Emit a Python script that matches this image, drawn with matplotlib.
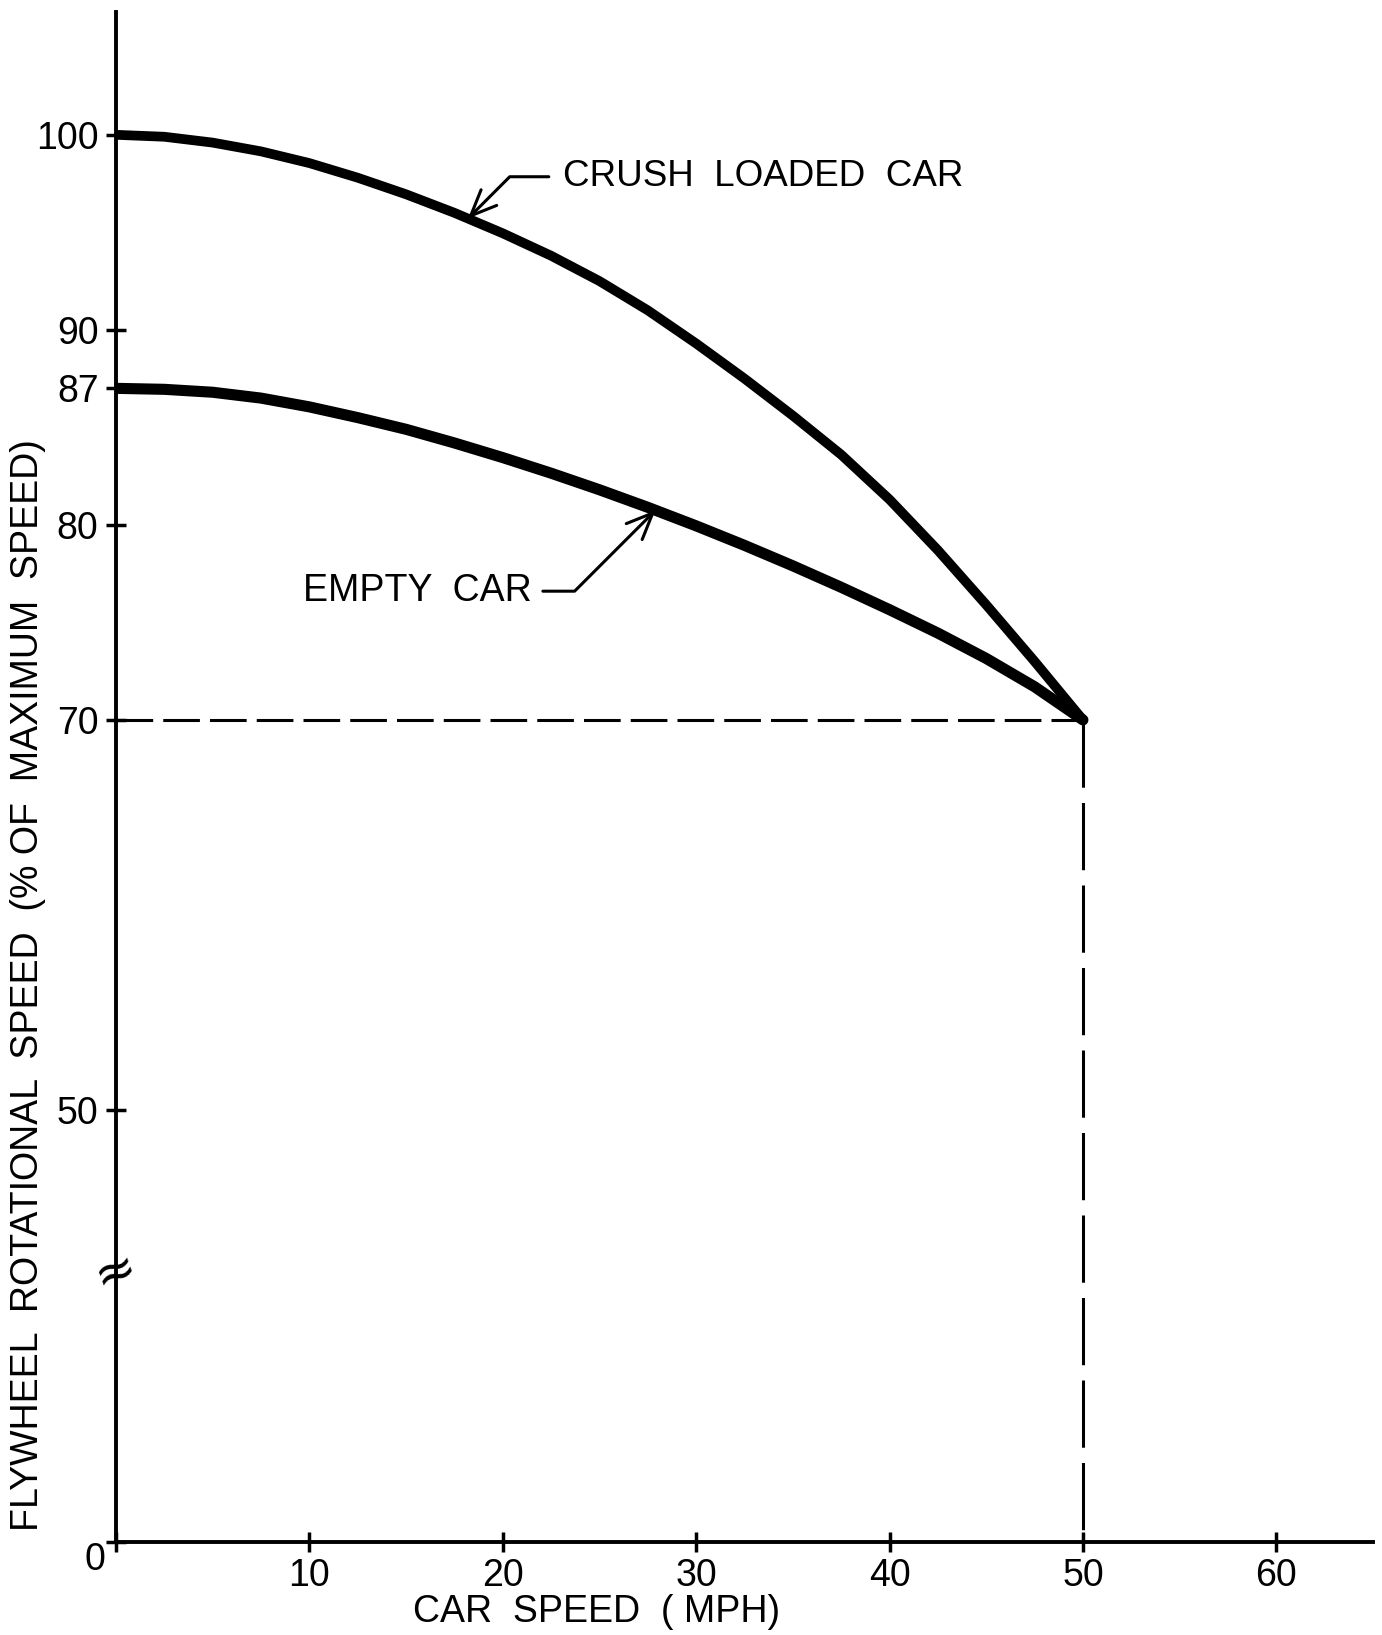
#!/usr/bin/env python3
"""
Flywheel rotational speed vs car speed
Redrawn from a scanned figure using matplotlib
"""

import matplotlib
matplotlib.use('Agg')  # no display here
import matplotlib.pyplot as plt
import numpy as np

OUTPUT_PATH = "out.png"

car_speed = [0, 2.5, 5, 7.5, 10, 12.5, 15, 17.5, 20, 22.5, 25,
             27.5, 30, 32.5, 35, 37.5, 40, 42.5, 45, 47.5, 50]
# flywheel speed, % of maximum
crush_loaded = [100, 99.9, 99.6, 99.15, 98.55, 97.8, 96.95, 96.0, 94.95, 93.8, 92.5,
                91.0, 89.3, 87.5, 85.6, 83.6, 81.3, 78.7, 75.9, 73.0, 70]
empty_car = [87, 86.95, 86.8, 86.5, 86.05, 85.5, 84.9, 84.2, 83.45, 82.65, 81.8,
             80.9, 79.95, 78.95, 77.9, 76.8, 75.65, 74.45, 73.15, 71.7, 70]

x_ticks = [10, 20, 30, 40, 50, 60]
y_ticks = [50, 70, 80, 87, 90, 100]

# y axis is broken below 50, the "0" of the axis sits at this position
Y_ORIGIN = 27.85
Y_BREAK = 41.7
X_MAX = 65.0
Y_MAX = 106.3

FONT = ['Liberation Sans', 'DejaVu Sans']
FS = 27


def make_chart():
    plt.rcParams['font.family'] = FONT

    fig = plt.figure(figsize=(13.82, 16.35), dpi=100)
    ax = fig.add_axes([0.0839, 0.0569, 0.9096, 0.9358])

    ax.set_xlim(0, X_MAX)
    ax.set_ylim(Y_ORIGIN, Y_MAX)

    for side in ['top', 'right']:
        ax.spines[side].set_visible(False)
    for side in ['left', 'bottom']:
        ax.spines[side].set_linewidth(2.8)

    # curves
    ax.plot(car_speed, crush_loaded, color='black', lw=7, solid_capstyle='round',
            solid_joinstyle='round')
    ax.plot(car_speed, empty_car, color='black', lw=8, solid_capstyle='round',
            solid_joinstyle='round')

    # dashed guide lines to the common end point
    x_end = car_speed[-1]
    y_end = crush_loaded[-1]
    ax.plot([0, x_end], [y_end, y_end], color='black', lw=2.2,
            linestyle=(0, (12, 3.3)), clip_on=False)
    ax.plot([x_end, x_end], [y_end, Y_ORIGIN], color='black', lw=2.2,
            linestyle=(0, (22, 5)), clip_on=False)

    # ticks
    ax.set_xticks([0] + x_ticks)
    ax.set_xticklabels([''] + [str(v) for v in x_ticks])
    ax.set_yticks([Y_ORIGIN] + y_ticks)
    ax.set_yticklabels([''] + [str(v) for v in y_ticks])
    ax.tick_params(axis='both', direction='inout', length=15, width=2.5,
                   labelsize=FS, color='black')
    ax.tick_params(axis='y', pad=5)
    ax.tick_params(axis='x', pad=4)

    ax.annotate('0', xy=(0, Y_ORIGIN), xytext=(-15, -13), textcoords='offset points',
                ha='center', va='center', fontsize=FS)

    # axis break mark
    ax.text(0, Y_BREAK, '\u2248', ha='center', va='center', fontsize=36,
            rotation=20, family='DejaVu Sans', clip_on=False)

    # curve labels with leader arrows
    crush_x = 18.2
    ax.annotate('CRUSH  LOADED  CAR',
                xy=(crush_x, np.interp(crush_x, car_speed, crush_loaded)),
                xytext=(23.1, 97.85), ha='left', va='center', fontsize=26.5,
                arrowprops=dict(arrowstyle='->,head_length=0.7,head_width=0.3',
                                connectionstyle='angle,angleA=0,angleB=45,rad=0',
                                relpos=(0, 0.5), shrinkA=8, shrinkB=0,
                                lw=2.2, color='black'))

    empty_x = 27.9
    ax.annotate('EMPTY  CAR',
                xy=(empty_x, np.interp(empty_x, car_speed, empty_car)),
                xytext=(21.5, 76.6), ha='right', va='center', fontsize=FS,
                arrowprops=dict(arrowstyle='->,head_length=0.7,head_width=0.3',
                                connectionstyle='angle,angleA=0,angleB=225,rad=0',
                                relpos=(1, 0.5), shrinkA=6, shrinkB=0,
                                lw=2.2, color='black'))

    # axis titles
    fig.text(28 / 1382, 1 - 985 / 1635,
             'FLYWHEEL  ROTATIONAL  SPEED  (% OF  MAXIMUM  SPEED)',
             rotation=90, ha='center', va='center', fontsize=FS)
    fig.text(597 / 1382, 1 - 1612 / 1635, 'CAR  SPEED  ( MPH)',
             ha='center', va='center', fontsize=FS)

    fig.savefig(OUTPUT_PATH, dpi=100, facecolor='white')
    plt.close(fig)
    return OUTPUT_PATH


if __name__ == "__main__":
    print(f"Saved {make_chart()}")
